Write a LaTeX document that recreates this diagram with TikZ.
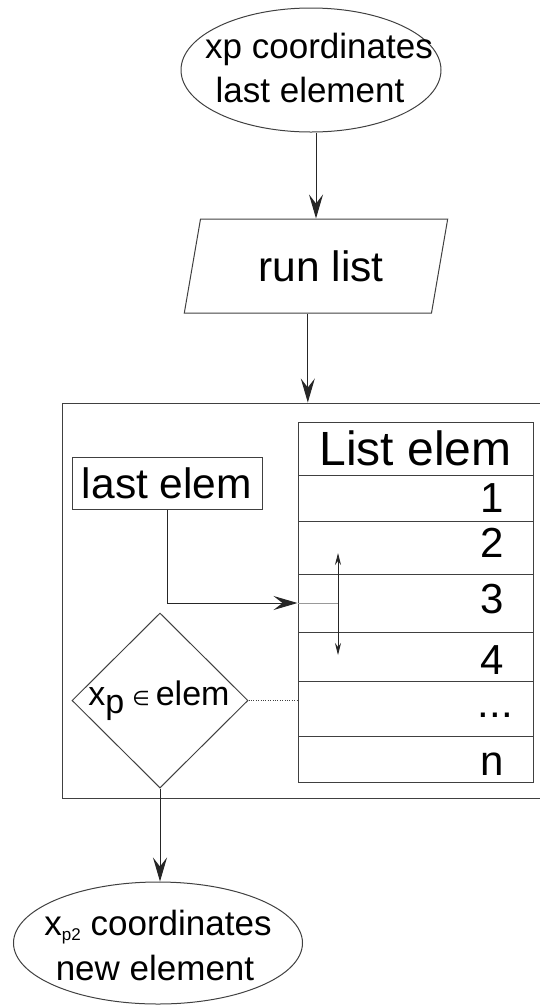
\documentclass[tikz,border=0pt]{standalone}
\usepackage{fontspec}
\setmainfont{Liberation Sans}
\newfontfamily\symfont{DejaVu Sans}
\usetikzlibrary{shapes.geometric,arrows.meta,calc}
\newcommand\fsz[1]{\fontsize{#1}{#1}\selectfont}
\begin{document}
\begin{tikzpicture}[x=1pt,y=-1pt,
  line/.style={draw=black!75, line width=1pt},
  arr/.style={draw=black!85, line width=1pt, -{Stealth[length=24pt,width=14pt,inset=9pt]}},
  tinyarr/.style={draw=black!85, line width=0.9pt, {Stealth[length=12pt,width=6pt,inset=4pt]}-{Stealth[length=12pt,width=6pt,inset=4pt]}},
  row/.style={line, rectangle, minimum width=235pt, inner sep=0pt},
  txt/.style={inner sep=0pt, text=black},
  empty/.style={inner sep=0pt}]
\useasboundingbox (0,0) rectangle (539,1005);

% top ellipse
\node[ellipse, line, empty, minimum width=260pt, minimum height=124pt] (topell) at (311,70) {};
\node[txt, anchor=base, font=\fsz{35}] (t1) at (319,58) {xp coordinates};
\node[txt, anchor=base, font=\fsz{35}] (t2) at (310,102) {last element};

% parallelogram
\node[trapezium, trapezium left angle=74.5, trapezium right angle=105.5,
      trapezium stretches=true, line, inner sep=2pt, font=\fsz{42.5},
      minimum width=264pt, minimum height=94pt] (par) at (316,266) {\hspace{10pt}run list};

% outer box
\node[line, rectangle, empty, minimum width=479pt, minimum height=395pt] (outer) at (301.5,600.5) {};

% connectors top
\draw[arr] (topell.south -| par.north) -- (par.north);
\coordinate (parbot) at ($(par.bottom left corner)!0.5!(par.bottom right corner)$);
\draw[arr] (parbot) -- (parbot |- outer.north);

% table
\node[row, minimum height=53pt] (r0) at (415.5,448.5) {};
\node[row, minimum height=46pt] (r1) at (415.5,498) {};
\node[row, minimum height=53pt] (r2) at (415.5,547.5) {};
\node[row, minimum height=58pt] (r3) at (415.5,603) {};
\node[row, minimum height=49pt] (r4) at (415.5,656.5) {};
\node[row, minimum height=55pt] (r5) at (415.5,708.5) {};
\node[row, minimum height=46pt] (r6) at (415.5,759) {};

\node[txt, anchor=base, font=\fsz{48}] (l0) at (415.5,465) {List elem};
\node[txt, anchor=base east, font=\fsz{42}] (l1) at (504,512) {1};
\node[txt, anchor=base east, font=\fsz{42}] (l2) at (504,557) {2};
\node[txt, anchor=base east, font=\fsz{42}] (l3) at (504,613) {3};
\node[txt, anchor=base east, font=\fsz{42}] (l4) at (504,674) {4};
\node[txt, anchor=base east, font=\fsz{42}] (l5) at (513,717) {...};
\node[txt, anchor=base east, font=\fsz{42}] (l6) at (504,775) {n};

% last elem box
\node[line, rectangle, inner sep=0pt, minimum width=190pt, minimum height=52pt, font=\fsz{42.5}] (last) at (167,483) {last elem};

\draw[arr] (last.south) |- (r3.west);
\coordinate (mid) at (338,603);
\draw[draw=black!40, line width=0.8pt] (r3.west) -- (mid);
\coordinate (ua) at (338,553);
\coordinate (da) at (338,655);
\draw[tinyarr] (ua) -- (da);

% diamond
\node[diamond, line, empty, minimum width=176pt, minimum height=175pt] (dia) at (160,700.5) {};
\node[txt, anchor=base, font=\fsz{34}] (diatxt) at (159,705)
  {x\raisebox{-8pt}{p}\hspace{8pt}{\symfont\fsz{20}∈}\hspace{6pt}elem};
\draw[line, line width=0.8pt, dash pattern=on 1pt off 1.4pt] (dia.east) -- (dia.east -| r0.west);

% bottom ellipse
\node[ellipse, line, empty, minimum width=289pt, minimum height=122pt] (botell) at (158,943) {};
\node[txt, anchor=base, font=\fsz{35}] (b1) at (158,935)
  {x\raisebox{-5pt}{\fsz{17}p2} coordinates};
\node[txt, anchor=base, font=\fsz{35}] (b2) at (155,980) {new element};

\draw[arr] (dia.south) -- (dia.south |- botell.north);
\end{tikzpicture}
\end{document}
